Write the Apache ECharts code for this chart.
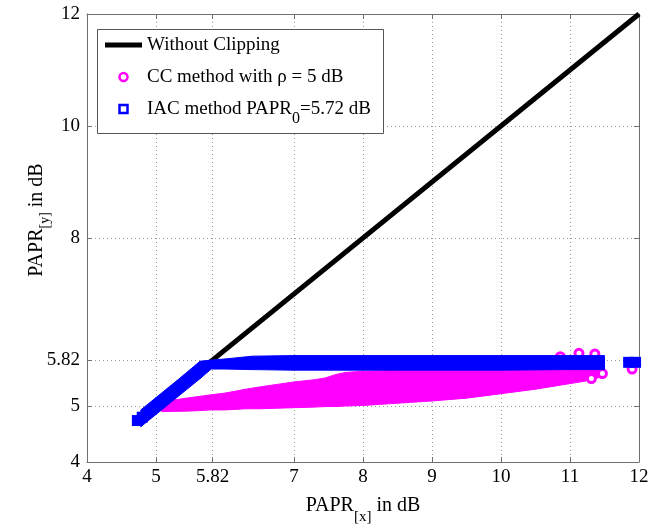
<!DOCTYPE html>
<html>
<head>
<meta charset="utf-8">
<script src="https://cdn.jsdelivr.net/npm/echarts@6/dist/echarts.min.js"></script>
<style>
    html, body { margin: 0; padding: 0; background: #fff; }
    #container { width: 672px; height: 527px; }
</style>
</head>
<body>
<div id="container"></div>
<script>
// tick positions
var xTicks = [4, 5, 5.82, 7, 8, 9, 10, 11, 12];
var yTicks = [4, 5, 5.82, 8, 10, 12];

// reference line (no clipping)
var refX = [4.72, 12];
var refY = [4.72, 12];

// CC method cloud, read as lower / upper edge of the magenta band
var ccX  = [5.00, 5.10, 5.50, 5.80, 6.00, 6.30, 6.50, 7.00, 7.30, 7.45, 7.60, 7.75, 8.00, 8.50, 9.00, 9.50, 10.00, 10.50, 11.00, 11.30, 11.50];
var ccLo = [4.95, 4.90, 4.91, 4.93, 4.93, 4.95, 4.95, 4.97, 4.98, 4.99, 4.99, 5.00, 5.01, 5.05, 5.09, 5.14, 5.22, 5.30, 5.40, 5.46, 5.54];
var ccHi = [5.02, 5.08, 5.15, 5.20, 5.23, 5.30, 5.34, 5.43, 5.47, 5.50, 5.56, 5.60, 5.62, 5.64, 5.70, 5.72, 5.74, 5.76, 5.78, 5.78, 5.60];
// stray CC points
var ccPtX = [10.86, 11.13, 11.36, 11.31, 11.47, 11.90];
var ccPtY = [5.88, 5.94, 5.93, 5.49, 5.58, 5.66];

// IAC method, lower / upper edge of the blue band
var iacX  = [4.78, 5.00, 5.30, 5.64, 5.80, 6.00, 6.40, 7.00, 8.00, 9.00, 10.00, 11.00, 11.50];
var iacLo = [4.63, 4.85, 5.15, 5.49, 5.66, 5.66, 5.65, 5.64, 5.64, 5.64, 5.64, 5.65, 5.65];
var iacHi = [4.93, 5.15, 5.45, 5.80, 5.82, 5.84, 5.89, 5.90, 5.90, 5.90, 5.90, 5.90, 5.90];
// separate IAC points
var iacPtX = [4.73, 4.80, 11.85, 11.95];
var iacPtY = [4.74, 4.80, 5.78, 5.78];

var CC_NAME = 'CC method with ρ = 5 dB';
var IAC_NAME = 'IAC method PAPR0=5.72 dB';
var FONT = 'Liberation Serif';

function zip3(a, b, c) {
    var out = [];
    for (var i = 0; i < a.length; i++) {
        out.push([a[i], b[i], c[i]]);
    }
    return out;
}
function zip2(a, b) {
    var out = [];
    for (var i = 0; i < a.length; i++) {
        out.push([a[i], b[i]]);
    }
    return out;
}

// draws a filled band segment between row i and row i+1
function bandRenderer(rows, color) {
    return function (params, api) {
        var i = params.dataIndex;
        if (i >= rows.length - 1) {
            return null;
        }
        var r0 = rows[i];
        var r1 = rows[i + 1];
        var pts = [
            api.coord([r0[0], r0[2]]),
            api.coord([r1[0], r1[2]]),
            api.coord([r1[0], r1[1]]),
            api.coord([r0[0], r0[1]])
        ];
        return {
            type: 'polygon',
            shape: { points: pts },
            style: { fill: color, stroke: color, lineWidth: 1 }
        };
    };
}

var ccRows = zip3(ccX, ccLo, ccHi);
var iacRows = zip3(iacX, iacLo, iacHi);

var dom = document.getElementById('container');
var myChart = echarts.init(dom, null, { renderer: 'canvas' });

var axisColor = '#6f6f6f';
var gridLine = { show: true, lineStyle: { color: '#9a9a9a', type: [1, 3], width: 1 } };
var labelStyle = { color: '#000', fontFamily: FONT, fontSize: 19 };

var option = {
    animation: false,
    backgroundColor: '#fff',
    grid: { left: 87, right: 33, top: 14, bottom: 65, outerBoundsMode: 'none' },
    graphic: [
        {
            type: 'rect',
            left: 97,
            top: 29,
            z: 5,
            shape: { width: 286, height: 104 },
            style: { fill: '#fff', stroke: '#555', lineWidth: 1 }
        }
    ],
    legend: {
        orient: 'vertical',
        left: 105,
        top: 27,
        padding: 0,
        itemWidth: 37,
        itemHeight: 8,
        itemGap: -4,
        z: 6,
        selectedMode: false,
        textStyle: {
            color: '#000', fontFamily: FONT, fontSize: 19, lineHeight: 20,
            rich: {
                t: { fontFamily: FONT, fontSize: 19, lineHeight: 20, color: '#000' },
                s: { fontFamily: FONT, fontSize: 16, lineHeight: 2, color: '#000', padding: [20, 0, 0, 0] }
            }
        },
        // every row gets the same rich layout so the rows keep equal height
        formatter: function (name) {
            if (name === IAC_NAME) {
                return '{t|IAC method PAPR}{s|0}{t|=5.72 dB}';
            }
            return '{t|' + name + '}{s| }';
        },
        data: [
            { name: 'Without Clipping', icon: 'path://M0,0H37V5H0Z', itemStyle: { color: '#000', borderWidth: 0 } },
            { name: CC_NAME, icon: 'circle', itemStyle: { color: '#fff', borderColor: '#ff00ff', borderWidth: 2.5 } },
            { name: IAC_NAME, icon: 'path://M0,0H10V10H0Z', itemStyle: { color: '#fff', borderColor: '#0000ff', borderWidth: 2.5 } }
        ]
    },
    xAxis: [
        {
            type: 'value',
            min: 4,
            max: 12,
            position: 'bottom',
            name: '{a|PAPR}{s|[x]}{a| in dB}',
            nameLocation: 'middle',
            nameGap: 24,
            nameMoveOverlap: false,
            nameTextStyle: {
                rich: {
                    a: { fontFamily: FONT, fontSize: 20, color: '#000' },
                    s: { fontFamily: FONT, fontSize: 15, color: '#000', padding: [24, 0, 0, 0] }
                }
            },
            axisLine: { show: true, lineStyle: { color: axisColor } },
            axisTick: { show: true, inside: true, length: 5, customValues: xTicks, lineStyle: { color: axisColor } },
            axisLabel: Object.assign({ customValues: xTicks, margin: 6 }, labelStyle),
            splitLine: gridLine
        },
        {
            type: 'value',
            min: 4,
            max: 12,
            position: 'top',
            axisLine: { show: true, lineStyle: { color: axisColor } },
            axisTick: { show: true, inside: true, length: 5, customValues: xTicks, lineStyle: { color: axisColor } },
            axisLabel: { show: false },
            splitLine: { show: false }
        }
    ],
    yAxis: [
        {
            type: 'value',
            min: 4,
            max: 12,
            position: 'left',
            name: '{a|PAPR}{s|[y]}{a| in dB}',
            nameLocation: 'middle',
            nameGap: 35,
            nameRotate: 90,
            nameMoveOverlap: false,
            nameTextStyle: {
                padding: [0, 0, 0, 36],
                rich: {
                    a: { fontFamily: FONT, fontSize: 20, color: '#000' },
                    s: { fontFamily: FONT, fontSize: 14, color: '#000', padding: [16, 0, 0, 0] }
                }
            },
            axisLine: { show: true, lineStyle: { color: axisColor } },
            axisTick: { show: true, inside: true, length: 5, customValues: yTicks, lineStyle: { color: axisColor } },
            axisLabel: Object.assign({ customValues: yTicks, margin: 7 }, labelStyle),
            splitLine: gridLine
        },
        {
            type: 'value',
            min: 4,
            max: 12,
            position: 'right',
            axisLine: { show: true, lineStyle: { color: axisColor } },
            axisTick: { show: true, inside: true, length: 5, customValues: yTicks, lineStyle: { color: axisColor } },
            axisLabel: { show: false },
            splitLine: { show: false }
        }
    ],
    series: [
        {
            name: 'Without Clipping',
            type: 'line',
            z: 1,
            data: zip2(refX, refY),
            symbol: 'none',
            lineStyle: { color: '#000', width: 5 },
            itemStyle: { color: '#000' }
        },
        {
            name: CC_NAME,
            type: 'custom',
            z: 2,
            renderItem: bandRenderer(ccRows, '#ff00ff'),
            encode: { x: 0, y: [1, 2] },
            data: ccRows,
            itemStyle: { color: '#ff00ff' }
        },
        {
            name: 'CC points',
            type: 'scatter',
            z: 2,
            data: zip2(ccPtX, ccPtY),
            symbol: 'circle',
            symbolSize: 8,
            itemStyle: { color: '#fff', borderColor: '#ff00ff', borderWidth: 3, opacity: 1 }
        },
        {
            name: IAC_NAME,
            type: 'custom',
            z: 3,
            renderItem: bandRenderer(iacRows, '#0000ff'),
            encode: { x: 0, y: [1, 2] },
            data: iacRows,
            itemStyle: { color: '#0000ff' }
        },
        {
            name: 'IAC points',
            type: 'scatter',
            z: 3,
            data: zip2(iacPtX, iacPtY),
            symbol: 'rect',
            symbolSize: 11,
            itemStyle: { color: '#0000ff', opacity: 1 }
        }
    ]
};

myChart.setOption(option);
window.addEventListener('resize', myChart.resize);
</script>
</body>
</html>
